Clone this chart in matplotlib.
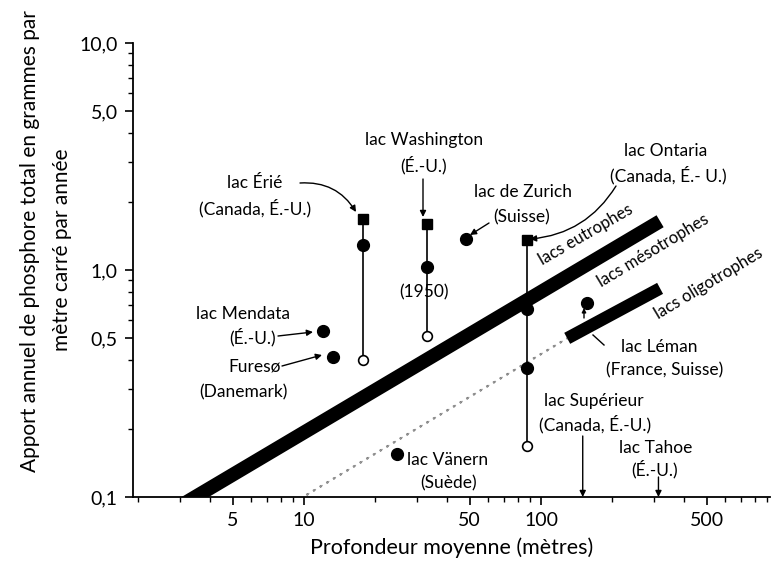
import matplotlib
matplotlib.use("Agg")
import matplotlib.pyplot as plt
from matplotlib.ticker import FixedLocator, FixedFormatter, LogLocator, NullFormatter

plt.rcParams['font.family'] = ['Lato', 'DejaVu Sans']

# ---------------- data ----------------
# lakes with a vertical history line (square = recent, open circle = older)
hist_lakes = ["Érié", "Washington", "Ontario"]
hist_depth = [17.7, 32.9, 87.0]
hist_square = [1.68, 1.60, 1.36]
hist_open = [0.40, 0.51, 0.168]

# filled circles
dot_lakes = ["Érié", "Washington", "Ontario", "Ontario b", "Zurich", "Mendota", "Furesø", "Vänern", "Léman"]
dot_depth = [17.7, 32.9, 87.0, 87.0, 48.4, 12.0, 13.2, 24.6, 157.0]
dot_load = [1.29, 1.03, 0.67, 0.37, 1.37, 0.537, 0.412, 0.155, 0.715]

# lakes only shown by depth (arrow to axis)
axis_lakes = ["Supérieur", "Tahoe"]
axis_depth = [150.0, 313.0]

# band limits
eutro_depth = [3.0, 318.0]
eutro_load = [0.0913, 1.64]
oligo_thin_depth = [9.6, 129.0]
oligo_thin_load = [0.098, 0.50]
oligo_thick_depth = [129.0, 318.0]
oligo_thick_load = [0.50, 0.83]

xticks = [5, 10, 50, 100, 500]
xticklabels = ["5", "10", "50", "100", "500"]
yticks = [0.1, 0.5, 1.0, 5.0, 10.0]
yticklabels = ["0,1", "0,5", "1,0", "5,0", "10,0"]

# ---------------- figure ----------------
W, H = 774, 565
fig = plt.figure(figsize=(W / 100, H / 100), dpi=100)
L, R, T, B = 133, 770, 43, 497
ax = fig.add_axes([L / W, 1 - B / H, (R - L) / W, (B - T) / H])
ax.set_xscale('log')
ax.set_yscale('log')
ax.set_xlim(1.9, 925)
ax.set_ylim(0.1, 10)

for s in ['top', 'right']:
    ax.spines[s].set_visible(False)
for s in ['left', 'bottom']:
    ax.spines[s].set_linewidth(1.3)

ax.xaxis.set_major_locator(FixedLocator(xticks))
ax.xaxis.set_major_formatter(FixedFormatter(xticklabels))
ax.xaxis.set_minor_locator(LogLocator(base=10, subs=range(2, 10)))
ax.xaxis.set_minor_formatter(NullFormatter())
ax.yaxis.set_major_locator(FixedLocator(yticks))
ax.yaxis.set_major_formatter(FixedFormatter(yticklabels))
ax.yaxis.set_minor_locator(LogLocator(base=10, subs=range(2, 10)))
ax.yaxis.set_minor_formatter(NullFormatter())
ax.tick_params(which='major', length=6, width=1.2, labelsize=14, pad=5, color='black')
ax.tick_params(which='minor', length=3.5, width=1.0)

# bands
ax.plot(eutro_depth, eutro_load, color='black', lw=10, solid_capstyle='butt', zorder=2)
ax.plot(oligo_thin_depth, oligo_thin_load, color='#666666', lw=1.6, ls=(0, (1, 2.5)), zorder=2)
ax.plot(oligo_thin_depth, oligo_thin_load, color='#999999', lw=0.8, ls=(0, (3, 4)), zorder=2)
ax.plot(oligo_thick_depth, oligo_thick_load, color='black', lw=9, solid_capstyle='butt', zorder=2)

# history lines
for d, sq, op in zip(hist_depth, hist_square, hist_open):
    ax.plot([d, d], [sq, op], color='black', lw=1.2, zorder=3)
ax.plot(hist_depth, hist_square, ls='none', marker='s', ms=6.5, color='black', zorder=4)
ax.plot(hist_depth, hist_open, ls='none', marker='o', ms=7, mfc='white', mec='black', mew=1.2, zorder=4)
ax.plot(dot_depth, dot_load, ls='none', marker='o', ms=8.5, color='black', zorder=4)

fs = 12.5
FP = 'figure pixels'


def P(x, y):
    return (x, H - y)


def label(x, y, s, **kw):
    fig.text(x / W, 1 - y / H, s, ha='center', va='center', fontsize=fs, **kw)


arrow = dict(arrowstyle='-|>', color='black', lw=1.0, mutation_scale=9, shrinkA=0, shrinkB=0)

# Érié
label(255, 183, "lac Érié")
label(255, 208, "(Canada, É.-U.)")
ax.annotate("", xy=P(356, 212), xycoords=FP, xytext=P(300, 183), textcoords=FP,
            arrowprops=dict(arrow, connectionstyle='arc3,rad=-0.3'))
# Washington
label(424, 140, "lac Washington")
label(424, 165, "(É.-U.)")
ax.annotate("", xy=P(423, 217), xycoords=FP, xytext=P(423, 179), textcoords=FP, arrowprops=arrow)
label(424, 292, "(1950)")
# Zurich
label(523, 192, "lac de Zurich")
label(522, 217, "(Suisse)")
ax.annotate("", xy=P(470, 235), xycoords=FP, xytext=P(489, 223), textcoords=FP, arrowprops=arrow)
# Ontario
label(666, 151, "lac Ontaria")
label(668, 175, "(Canada, É.- U.)")
ax.annotate("", xy=P(530, 239), xycoords=FP, xytext=P(616, 186), textcoords=FP,
            arrowprops=dict(arrow, connectionstyle='arc3,rad=-0.25'))
# Mendota
label(243, 314, "lac Mendata")
label(253, 337, "(É.-U.)")
ax.annotate("", xy=P(313, 332), xycoords=FP, xytext=P(278, 336), textcoords=FP, arrowprops=arrow)
# Furesø
label(255, 367, "Furesø")
label(243, 392, "(Danemark)")
ax.annotate("", xy=P(322, 355), xycoords=FP, xytext=P(282, 366), textcoords=FP, arrowprops=arrow)
# Vänern
label(448, 460, "lac Vänern")
label(449, 483, "(Suède)")
# Léman
label(659, 347, "lac Léman")
label(665, 370, "(France, Suisse)")
ax.plot([593, 604], [H - 335, H - 345], color='black', lw=1.0, transform=None, zorder=3)
ax.annotate("", xy=P(584, 308), xycoords=FP, xytext=P(584, 318), textcoords=FP,
            arrowprops=dict(arrow, mutation_scale=6))
# Supérieur / Tahoe
label(594, 401, "lac Supérieur")
label(595, 424, "(Canada, É.-U.)")
label(656, 448, "lac Tahoe")
label(655, 469, "(É.-U.)")
for d, y0 in zip(axis_depth, [436, 477]):
    ax.annotate("", xy=(d, 0.1), xycoords='data', xytext=(d, H - y0),
                textcoords=('data', 'figure pixels'), arrowprops=arrow)

# band labels
bfs = 12
fig.text(586 / W, 1 - 235 / H, "lacs eutrophes", rotation=30, ha='center', va='center', fontsize=bfs,
         rotation_mode='anchor')
fig.text(653 / W, 1 - 251 / H, "lacs mésotrophes", rotation=31, ha='center', va='center', fontsize=bfs,
         rotation_mode='anchor')
fig.text(709 / W, 1 - 283 / H, "lacs oligotrophes", rotation=31, ha='center', va='center', fontsize=bfs,
         rotation_mode='anchor')

# axis labels
fig.text(452 / W, 1 - 548 / H, "Profondeur moyenne (mètres)", ha='center', va='center', fontsize=15.5)
fig.text(30 / W, 1 - 241 / H, "Apport annuel de phosphore total en grammes par", rotation=90,
         ha='center', va='center', fontsize=15)
fig.text(62 / W, 1 - 250 / H, "mètre carré par année", rotation=90, ha='center', va='center', fontsize=15)

fig.savefig("out.png", dpi=100)
